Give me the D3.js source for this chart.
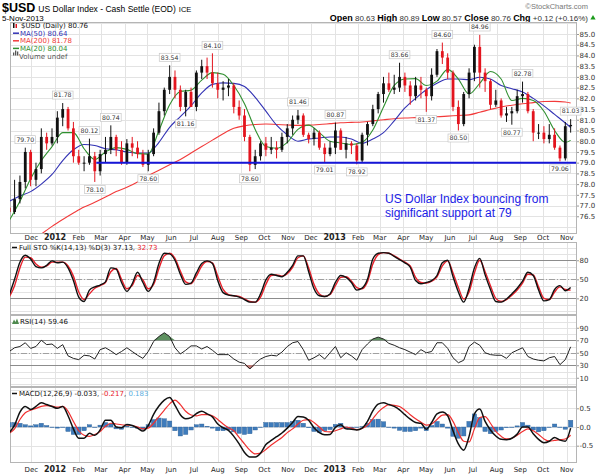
<!DOCTYPE html>
<html>
<head>
<meta charset="utf-8">
<script src="https://cdn.jsdelivr.net/npm/d3@7"></script>
<style>
  body { margin: 0; background: #fff; }
  svg text { font-family: "DejaVu Sans", sans-serif; }
  svg text.arial { font-family: "Liberation Sans", Arial, sans-serif; }
</style>
</head>
<body>
<script>
// ---------- data (one entry per week, the week is dated on its Wednesday) ----------
var firstWeek = new Date(2011, 10, 2);

var barOpen = [76.9,76.7,77.3,78.1,79.5,78.2,78.7,80.2,79.9,80.2,81.1,81.5,80.6,79.3,79.0,79.0,79.3,78.6,79.4,79.6,
  80.2,79.6,79.0,79.9,79.7,79.4,78.9,79.4,80.4,81.4,82.4,83.0,82.4,81.6,82.3,81.6,83.2,83.5,83.2,82.7,
  82.4,82.5,82.6,81.6,81.2,80.2,78.9,79.3,79.9,79.6,79.7,79.6,80.2,80.6,81.0,81.2,80.3,80.1,80.4,79.7,
  79.4,79.7,80.5,79.6,79.9,79.8,79.1,80.3,80.8,81.5,82.2,82.7,82.4,82.5,83.0,82.6,82.1,82.6,82.4,82.1,
  83.1,84.2,83.9,83.2,81.6,80.8,82.2,83.2,84.4,83.2,82.8,81.7,81.9,81.2,81.3,81.4,82.1,82.2,81.4,80.4,
  80.4,80.1,80.3,79.7,79.2,80.7];
var barHigh = [77.3,78.2,78.4,79.7,79.6,79.0,80.6,80.4,80.6,81.4,81.78,81.6,80.9,79.6,79.3,80.12,79.5,79.6,80.2,80.74,
  80.3,80.0,80.1,80.2,80.0,79.6,79.6,80.6,81.8,82.5,83.54,83.3,82.6,82.4,82.5,83.3,83.8,83.9,84.1,83.2,
  82.8,82.9,82.7,81.9,81.5,80.3,79.6,80.0,80.2,80.2,80.0,80.4,80.8,81.2,81.46,81.3,80.4,80.6,80.5,79.9,
  80.0,80.87,80.6,80.2,80.0,79.9,80.4,80.9,81.7,82.3,83.0,83.2,83.1,83.66,83.2,82.8,83.0,83.0,82.5,83.4,
  84.3,84.6,84.1,83.3,81.9,82.3,83.4,84.5,84.96,83.4,82.9,82.4,82.0,81.6,81.6,82.4,82.78,82.3,81.5,80.8,
  80.7,80.8,80.6,79.8,80.9,81.03];
var barLow = [76.4,76.6,77.1,77.8,77.9,77.9,78.5,79.6,79.8,79.9,80.7,80.5,79.0,78.9,78.6,78.9,78.1,78.4,79.0,79.4,
  79.3,78.9,78.9,79.3,79.2,78.8,78.6,79.3,80.3,81.2,82.2,82.0,81.4,81.16,81.6,81.4,82.9,82.9,82.5,82.0,
  81.9,82.1,81.3,81.0,80.0,78.6,78.7,79.1,79.3,79.4,79.2,79.5,79.9,80.3,80.8,80.2,79.9,79.8,79.6,79.01,
  79.3,79.4,79.6,79.2,79.4,78.92,79.0,79.8,80.7,81.3,81.8,82.3,82.2,82.3,82.3,81.7,81.9,82.0,81.37,81.9,
  83.0,83.6,82.9,81.4,80.5,80.7,82.0,82.8,82.5,82.3,81.5,81.6,81.1,80.9,80.77,81.3,81.8,81.3,80.0,80.1,
  79.9,79.9,79.6,79.06,79.1,80.4];
var barClose = [76.7,77.3,78.1,79.5,78.2,78.7,80.2,79.9,80.2,81.1,81.5,80.6,79.3,79.0,79.0,79.3,78.6,79.4,79.6,80.2,
  79.6,79.0,79.9,79.7,79.4,78.9,79.4,80.4,81.4,82.4,83.0,82.4,81.6,82.3,81.6,83.2,83.5,83.2,82.7,82.4,
  82.5,82.6,81.6,81.2,80.2,78.9,79.3,79.9,79.6,79.7,79.6,80.2,80.6,81.0,81.2,80.3,80.1,80.4,79.7,79.4,
  79.7,80.5,79.6,79.9,79.8,79.1,80.3,80.8,81.5,82.2,82.7,82.4,82.5,83.0,82.6,82.1,82.6,82.4,82.1,83.1,
  84.2,83.9,83.2,81.6,80.8,82.2,83.2,84.4,83.2,82.8,81.7,81.9,81.2,81.3,81.4,82.1,82.2,81.4,80.4,80.4,
  80.1,80.3,79.7,79.2,80.7,80.76];

// moving averages, read every second week (last value is the final week)
var ma50 = [77.2,77.45,77.65,78.0,78.45,79.1,79.6,79.85,79.8,79.65,79.6,79.5,79.45,79.45,79.95,80.65,81.15,81.65,82.25,82.65,
  82.72,82.7,82.55,82.05,81.4,80.75,80.3,80.0,80.1,80.15,80.2,80.2,80.1,79.9,80.1,80.4,80.95,81.55,82.0,82.4,
  82.7,82.9,82.9,82.87,82.98,82.9,82.6,82.45,82.3,82.0,81.65,81.25,80.85,80.64];
var ma20 = [76.3,77.2,78.25,79.1,79.75,80.4,80.4,79.65,79.15,79.5,79.7,79.62,79.42,79.4,80.5,81.7,82.32,82.38,82.85,83.2,
  83.12,82.6,81.75,80.55,79.75,79.67,79.95,80.55,80.75,80.4,80.0,79.92,79.85,79.95,80.52,81.6,82.6,82.9,82.92,82.6,
  82.8,83.35,82.9,82.2,82.7,83.25,82.9,81.9,82.0,81.9,81.4,80.5,79.95,80.04];
// the 200 day average only enters the panel from the 4th sample on
var ma200 = [75.67,76.03,76.35,76.65,76.93,77.15,77.4,77.65,77.85,78.1,78.4,78.65,78.9,79.15,79.45,79.75,80.05,80.35,80.6,80.72,
  80.78,80.8,80.78,80.76,80.74,80.75,80.78,80.82,80.86,80.88,80.9,80.95,81.0,81.05,81.08,81.1,81.12,81.14,81.17,81.2,
  81.23,81.35,81.48,81.6,81.68,81.75,81.8,81.85,81.86,81.83,81.78];

// price labels on the swing highs / lows
var labelValues = [79.70,81.78,80.12,78.10,80.74,78.60,83.54,81.16,84.10,78.60,81.46,79.01,80.87,78.92,83.66,81.37,84.60,80.50,84.96,80.77,82.78,79.06,81.03];
var labelWeeks  = [3,10,15,16,19,26,30,33,38,45,54,59,61,65,73,78,81,84,88,94,96,103,105];
var labelSides  = ["hi","hi","hi","lo","hi","lo","hi","lo","hi","lo","hi","lo","hi","lo","hi","lo","hi","lo","hi","lo","hi","lo","hi"];

var supportLevel = 79.0;
var supportFrom = new Date(2012, 1, 24);

var stoK = [25,50,77,88,82,70,68,72,79,76,77,68,48,22,15,33,38,41,46,68,
  66,45,31,43,61,45,31,45,75,91,90,80,58,42,44,60,75,79,75,48,
  29,25,24,22,18,14,14,27,49,58,56,54,61,72,87,87,62,35,24,23,
  27,45,56,53,45,33,36,50,82,91,92,91,86,81,76,69,48,43,45,48,
  56,76,80,54,30,14,36,68,83,57,34,15,14,19,27,36,47,61,56,33,
  16,18,34,40,32,37];
var stoD = [22,40,68,85,84,74,69,71,77,77,77,71,55,30,18,27,36,40,45,62,
  67,50,35,40,56,49,35,42,67,87,91,83,63,46,43,55,71,78,76,55,
  34,26,24,23,19,15,14,22,42,56,57,55,59,69,84,87,68,42,27,23,
  26,40,53,54,47,37,35,46,74,89,92,91,87,82,77,71,53,45,44,47,
  54,71,79,60,37,19,30,60,80,62,40,20,15,18,25,33,44,58,57,38,
  20,18,30,38,34,33];

var rsi = [52,58,60,66,57,60,70,63,64,57,63,45,41,39,46,45,40,55,58,53,
  47,52,58,52,46,41,52,68,76,82,76,58,48,54,61,61,56,60,54,47,
  47,47,40,35,33,24,33,40,44,46,45,51,60,66,68,55,38,42,47,40,
  50,60,42,50,45,38,55,64,72,75,72,65,62,58,55,51,47,55,50,52,
  66,66,57,42,34,38,60,67,62,50,47,46,46,41,50,54,58,44,40,38,
  37,42,44,31,39,59.5];

var macd = [-0.15,0.05,0.40,0.55,0.47,0.55,0.65,0.60,0.55,0.50,0.55,0.30,-0.05,-0.30,-0.30,-0.17,-0.22,-0.08,0.18,0.18,
  0.0,-0.02,0.07,0.04,-0.03,-0.11,0.04,0.34,0.56,0.72,0.79,0.58,0.33,0.22,0.25,0.36,0.42,0.35,0.27,0.08,
  -0.02,-0.09,-0.25,-0.45,-0.68,-0.80,-0.80,-0.70,-0.47,-0.36,-0.26,-0.16,-0.03,0.12,0.28,0.27,0.18,-0.02,-0.15,-0.21,
  -0.20,-0.01,0.06,-0.05,-0.06,-0.08,-0.03,0.15,0.43,0.61,0.65,0.60,0.55,0.46,0.33,0.21,0.12,0.10,-0.06,0.12,
  0.35,0.40,0.30,-0.10,-0.45,-0.62,-0.25,0.35,0.48,0.15,-0.08,-0.24,-0.33,-0.34,-0.30,-0.19,0.0,0.0,-0.18,-0.33,
  -0.42,-0.38,-0.28,-0.35,-0.38,-0.03];
var macdSignal = [-0.17,-0.05,0.2,0.38,0.45,0.5,0.55,0.57,0.56,0.53,0.55,0.42,0.15,-0.1,-0.22,-0.25,-0.2,-0.12,0.02,0.1,
  0.08,0.06,0.05,0.04,0.0,-0.05,-0.03,0.1,0.28,0.45,0.62,0.72,0.6,0.42,0.32,0.3,0.33,0.33,0.3,0.2,
  0.08,-0.02,-0.1,-0.28,-0.45,-0.62,-0.72,-0.7,-0.6,-0.48,-0.38,-0.28,-0.15,-0.05,0.08,0.18,0.2,0.12,0.0,-0.12,
  -0.13,-0.1,-0.05,0.0,-0.03,-0.07,-0.04,0.05,0.22,0.4,0.52,0.6,0.58,0.55,0.45,0.33,0.22,0.13,0.05,0.08,
  0.2,0.32,0.33,0.15,-0.15,-0.38,-0.4,-0.05,0.25,0.28,0.1,-0.12,-0.25,-0.32,-0.3,-0.22,-0.12,-0.05,-0.1,-0.2,
  -0.32,-0.38,-0.36,-0.34,-0.32,-0.22];
var macdHist = [0.12,0.12,0.1,0.06,0.03,0.06,0.1,0.04,-0.01,-0.03,0.0,-0.12,-0.2,-0.2,-0.1,0.06,0.0,0.05,0.12,0.08,
  -0.05,-0.06,0.02,0.0,-0.03,-0.06,0.06,0.2,0.24,0.22,0.16,-0.1,-0.24,-0.2,-0.08,0.06,0.08,0.02,-0.03,-0.1,
  -0.1,-0.08,-0.13,-0.17,-0.2,-0.18,-0.08,0.0,0.12,0.12,0.12,0.12,0.12,0.15,0.18,0.1,-0.02,-0.12,-0.15,-0.1,
  -0.07,0.07,0.1,-0.05,-0.03,-0.01,0.01,0.1,0.2,0.21,0.14,0.0,-0.03,-0.09,-0.12,-0.12,-0.1,-0.03,-0.1,0.04,
  0.15,0.08,-0.03,-0.25,-0.3,-0.24,0.15,0.35,0.25,-0.12,-0.18,-0.12,-0.08,-0.02,0.0,0.03,0.12,0.05,-0.08,-0.13,
  -0.1,0.0,0.08,-0.01,-0.06,0.18];

var mainTicks = [76.5,77.0,77.5,78.0,78.5,79.0,79.5,80.0,80.5,81.0,81.5,82.0,82.5,83.0,83.5,84.0,84.5,85.0];
var stoTicks = [20, 50, 80];
var rsiTicks = [10, 30, 50, 70, 90];
var macdTicks = [-0.5, 0.0, 0.5];

// ---------- layout ----------
var plotLeft = 10, plotRight = 576;
var mainTop = 22, mainBottom = 233;
var stoTop = 242, stoBottom = 314;
var rsiTop = 315, rsiBottom = 386;
var macdTop = 387, macdBottom = 462;

var upColor = "#111", downColor = "#e3141e";

var weekDates = d3.range(barClose.length).map(function(i) { return d3.timeDay.offset(firstWeek, 7 * i); });
var maWeeks = d3.range(0, barClose.length - 1, 2).concat([barClose.length - 1]);
var monthStarts = d3.timeMonth.range(new Date(2011, 11, 1), new Date(2013, 11, 1));

var x = d3.scaleTime()
    .domain([new Date(2011, 10, 3), new Date(2013, 10, 13)])
    .range([plotLeft, plotRight]);
var yMain = d3.scaleLinear().domain([75.72, 85.56]).range([mainBottom, mainTop]);
var ySto = d3.scaleLinear().domain([-4.7, 108.8]).range([stoBottom, stoTop]);
var yRsi = d3.scaleLinear().domain([-3.2, 110.4]).range([rsiBottom, rsiTop]);
var yMacd = d3.scaleLinear().domain([-0.936, 1.07]).range([macdBottom, macdTop]);

var svg = d3.select("body").append("svg")
    .attr("width", 605)
    .attr("height", 475);

drawHeader();
drawPanel("main", mainTop, mainBottom, yMain, d3.range(76, 85.6, 0.5), mainTicks, function(v) { return v.toFixed(1); });
drawPricePanel();
drawMonthLabels(239.5);
drawPanel("sto", stoTop, stoBottom, ySto, d3.range(0, 101, 10), stoTicks, String);
drawSto();
drawPanel("rsi", rsiTop, rsiBottom, yRsi, d3.range(0, 101, 10), rsiTicks, String);
drawRsi();
drawPanel("macd", macdTop, macdBottom, yMacd, [-0.5, 0, 0.5, 1.0], macdTicks, function(v) { return v.toFixed(1); });
drawMacd();
drawMonthLabels(472);


/**
 * Title lines above the chart
 */
function drawHeader() {
    var t = svg.append("text").attr("class", "arial").attr("x", 2).attr("y", 12);
    t.append("tspan").attr("font-size", 12.5).attr("font-weight", "bold").text("$USD");
    t.append("tspan").attr("font-size", 8.5).attr("dx", 3).text("US Dollar Index - Cash Settle (EOD)");
    t.append("tspan").attr("font-size", 7.5).attr("dx", 3).text("ICE");

    svg.append("text").attr("class", "arial").attr("x", 2).attr("y", 20.5)
        .attr("font-size", 8)
        .text("5-Nov-2013");

    svg.append("text").attr("class", "arial").attr("x", 588).attr("y", 9)
        .attr("text-anchor", "end").attr("font-size", 7.5).attr("fill", "#777")
        .text("\u00A9StockCharts.com");

    var q = svg.append("text").attr("class", "arial").attr("x", 588).attr("y", 20.5)
        .attr("text-anchor", "end").attr("font-size", 8);
    var parts = [["Open", " 80.63 "], ["High", " 80.89 "], ["Low", " 80.57 "], ["Close", " 80.76 "], ["Chg", " +0.12 (+0.16%)"]];
    parts.forEach(function(p) {
        q.append("tspan").attr("font-weight", "bold").attr("font-size", 9).text(p[0]);
        q.append("tspan").attr("fill", "#333").text(p[1]);
    });
    svg.append("path")
        .attr("d", d3.symbol().type(d3.symbolTriangle).size(12)())
        .attr("transform", "translate(593,18)")
        .attr("fill", "#1a9a1a");
}


/**
 * Frame, grid and right hand axis of one panel
 */
function drawPanel(name, top, bottom, yScale, gridValues, ticks, fmt) {
    svg.append("rect")
        .attr("x", plotLeft).attr("y", top)
        .attr("width", plotRight - plotLeft).attr("height", bottom - top)
        .attr("fill", "#fff");

    svg.append("clipPath").attr("id", "clip-" + name)
      .append("rect")
        .attr("x", plotLeft).attr("y", top)
        .attr("width", plotRight - plotLeft).attr("height", bottom - top);

    var grid = svg.append("g").attr("class", "grid");
    grid.selectAll(".h").data(gridValues.filter(function(v) {
            return yScale(v) > top + 1 && yScale(v) < bottom - 1;
        }))
        .enter().append("line")
        .attr("x1", plotLeft).attr("x2", plotRight)
        .attr("y1", function(d) { return Math.round(yScale(d)) + 0.5; })
        .attr("y2", function(d) { return Math.round(yScale(d)) + 0.5; })
        .attr("stroke", "#e3e3e3");
    grid.selectAll(".v").data(monthStarts)
        .enter().append("line")
        .attr("x1", function(d) { return Math.round(x(d)) + 0.5; })
        .attr("x2", function(d) { return Math.round(x(d)) + 0.5; })
        .attr("y1", top).attr("y2", bottom)
        .attr("stroke", "#e3e3e3");

    svg.append("rect")
        .attr("x", plotLeft + 0.5).attr("y", top + 0.5)
        .attr("width", plotRight - plotLeft).attr("height", bottom - top)
        .attr("fill", "none").attr("stroke", "#b5b5b5");

    // right axis, no domain line, labels only
    var axis = svg.append("g")
        .attr("transform", "translate(" + (plotRight + 1) + ",0)")
        .call(d3.axisRight(yScale).tickValues(ticks).tickSize(2).tickFormat(fmt));
    axis.select(".domain").remove();
    axis.selectAll("line").attr("stroke", "#999");
    axis.selectAll("text")
        .attr("font-size", 7).attr("fill", "#333")
        .attr("x", 2.5);
}


/**
 * Candles, moving averages, support line and the labels
 */
function drawPricePanel() {
    var g = svg.append("g").attr("clip-path", "url(#clip-main)");

    var bars = weekDates.map(function(d, i) {
        return { date: d, o: barOpen[i], h: barHigh[i], l: barLow[i], c: barClose[i] };
    });

    // moving averages under the candles
    var maLine = d3.line()
        .curve(d3.curveMonotoneX)
        .x(function(d) { return x(weekDates[d.w]); })
        .y(function(d) { return yMain(d.v); });
    var series = [
        { values: ma200, weeks: maWeeks.slice(3), color: "#f23a3a" },
        { values: ma50, weeks: maWeeks, color: "#3232b4" },
        { values: ma20, weeks: maWeeks, color: "#2f8f2f" }
    ];
    series.forEach(function(s) {
        g.append("path")
            .datum(s.values.map(function(v, i) { return { w: s.weeks[i], v: v }; }))
            .attr("fill", "none")
            .attr("stroke", s.color)
            .attr("stroke-width", 1.1)
            .attr("d", maLine);
    });

    g.selectAll(".wick").data(bars).enter().append("line")
        .attr("x1", function(d) { return x(d.date); })
        .attr("x2", function(d) { return x(d.date); })
        .attr("y1", function(d) { return yMain(d.h); })
        .attr("y2", function(d) { return yMain(d.l); })
        .attr("stroke", function(d) { return d.c >= d.o ? upColor : downColor; })
        .attr("stroke-width", 1);
    g.selectAll(".body").data(bars).enter().append("rect")
        .attr("x", function(d) { return x(d.date) - 1.4; })
        .attr("width", 2.8)
        .attr("y", function(d) { return yMain(Math.max(d.o, d.c)); })
        .attr("height", function(d) { return Math.max(1, Math.abs(yMain(d.o) - yMain(d.c))); })
        .attr("fill", function(d) { return d.c >= d.o ? upColor : downColor; });

    // support line
    g.append("line")
        .attr("x1", x(supportFrom)).attr("x2", plotRight)
        .attr("y1", yMain(supportLevel)).attr("y2", yMain(supportLevel))
        .attr("stroke", "#1515d8")
        .attr("stroke-width", 2);

    // price labels
    labelValues.forEach(function(v, i) {
        var cx = x(weekDates[labelWeeks[i]]);
        var py = yMain(v);
        var above = labelSides[i] === "hi";
        var lab = svg.append("g");
        var txt = lab.append("text")
            .attr("font-size", 6.2).attr("fill", "#333")
            .attr("text-anchor", "middle")
            .text(v.toFixed(2));
        var w = txt.node().getComputedTextLength() + 3;
        var boxY = above ? py - 12 : py + 3.5;
        if (boxY < mainTop + 1) boxY = mainTop + 1;
        lab.insert("rect", "text")
            .attr("x", cx - w / 2).attr("y", boxY)
            .attr("width", w).attr("height", 8)
            .attr("fill", "#fff").attr("stroke", "#c8c8c8").attr("stroke-width", 0.7);
        txt.attr("x", cx).attr("y", boxY + 6.3);
    });

    // note
    var note = svg.append("g").attr("fill", "#1c1ce6");
    note.append("text").attr("class", "arial").attr("font-size", 12)
        .attr("x", 385).attr("y", 203).text("US Dollar Index bouncing from");
    note.append("text").attr("class", "arial").attr("font-size", 12)
        .attr("x", 385).attr("y", 217).text("significant support at 79");

    // legend
    var lg = svg.append("g").attr("font-size", 7);
    lg.append("rect").attr("x", 13).attr("y", 23).attr("width", 1.5).attr("height", 5).attr("fill", "#111");
    lg.append("rect").attr("x", 15.5).attr("y", 24).attr("width", 1.5).attr("height", 4).attr("fill", "#e3141e");
    lg.append("text").attr("x", 21).attr("y", 28).attr("fill", "#111").text("$USD (Daily) 80.76");
    var rows = [["MA(50) 80.64", "#3232b4"], ["MA(200) 81.78", "#f23a3a"], ["MA(20) 80.04", "#2f8f2f"]];
    rows.forEach(function(r, i) {
        var yy = 35.5 + i * 7.6;
        lg.append("line").attr("x1", 13).attr("x2", 19).attr("y1", yy - 2.3).attr("y2", yy - 2.3)
            .attr("stroke", r[1]).attr("stroke-width", 1.5);
        lg.append("text").attr("x", 20).attr("y", yy).attr("fill", r[1]).text(r[0]);
    });
    [0, 2, 4].forEach(function(dx, k) {
        lg.append("rect").attr("x", 13 + dx).attr("y", 55.5 - [3, 5, 4][k])
            .attr("width", 1.3).attr("height", [3, 5, 4][k]).attr("fill", "#555");
    });
    lg.append("text").attr("x", 19).attr("y", 58.5).attr("fill", "#555").text("Volume undef");
}


/**
 * Month names (year at January) under a panel
 */
function drawMonthLabels(yPos) {
    svg.append("g").selectAll("text").data(monthStarts).enter().append("text")
        .attr("x", function(d) { return x(d); })
        .attr("y", yPos)
        .attr("text-anchor", "middle")
        .attr("font-size", function(d) { return d.getMonth() === 0 ? 8 : 7; })
        .attr("font-weight", function(d) { return d.getMonth() === 0 ? "bold" : "normal"; })
        .attr("fill", "#222")
        .text(function(d) { return d.getMonth() === 0 ? d.getFullYear() : d3.timeFormat("%b")(d); });
}


/**
 * Draw the level lines of an oscillator
 */
function levelLines(yScale, solid, dashed) {
    solid.forEach(function(v) {
        svg.append("line")
            .attr("x1", plotLeft).attr("x2", plotRight)
            .attr("y1", Math.round(yScale(v)) + 0.5).attr("y2", Math.round(yScale(v)) + 0.5)
            .attr("stroke", "#8c8c8c").attr("stroke-width", 1.2);
    });
    svg.append("line")
        .attr("x1", plotLeft).attr("x2", plotRight)
        .attr("y1", Math.round(yScale(dashed)) + 0.5).attr("y2", Math.round(yScale(dashed)) + 0.5)
        .attr("stroke", "#a0a0a0").attr("stroke-dasharray", "6,2,1,2");
}


function drawSto() {
    levelLines(ySto, [20, 80], 50);
    var g = svg.append("g").attr("clip-path", "url(#clip-sto)");
    var line = function(vals) {
        return d3.line().curve(d3.curveMonotoneX)
            .x(function(d, i) { return x(weekDates[i]); })
            .y(function(d) { return ySto(d); })(vals);
    };
    g.append("path").attr("d", line(stoD)).attr("fill", "none").attr("stroke", "#e8202a").attr("stroke-width", 1.4);
    g.append("path").attr("d", line(stoK)).attr("fill", "none").attr("stroke", "#111").attr("stroke-width", 1.4);

    svg.append("line").attr("x1", 12).attr("x2", 17).attr("y1", 247.5).attr("y2", 247.5)
        .attr("stroke", "#111").attr("stroke-width", 1.5);
    var t = svg.append("text").attr("x", 19).attr("y", 250).attr("font-size", 7);
    t.append("tspan").attr("fill", "#111").text("Full STO %K(14,13) %D(3) 37.13, ");
    t.append("tspan").attr("fill", "#e8202a").text("32.73");
}


function drawRsi() {
    levelLines(yRsi, [30, 70], 50);
    var g = svg.append("g").attr("clip-path", "url(#clip-rsi)");
    var xi = function(d, i) { return x(weekDates[i]); };

    g.append("path")
        .attr("d", d3.area().x(xi)
            .y0(yRsi(70))
            .y1(function(d) { return yRsi(Math.max(d, 70)); })(rsi))
        .attr("fill", "#5e9160").attr("stroke", "none");
    g.append("path")
        .attr("d", d3.area().x(xi)
            .y0(yRsi(30))
            .y1(function(d) { return yRsi(Math.min(d, 30)); })(rsi))
        .attr("fill", "#c77b76").attr("stroke", "none");
    g.append("path")
        .attr("d", d3.line().x(xi).y(function(d) { return yRsi(d); })(rsi))
        .attr("fill", "none").attr("stroke", "#222").attr("stroke-width", 1);

    svg.append("path").attr("d", "M12,324 L14,319.5 L15.5,322 L17,318.5 L19,324 Z").attr("fill", "#4f8a4f");
    svg.append("text").attr("x", 20).attr("y", 324).attr("font-size", 7).attr("fill", "#111").text("RSI(14) 59.46");
}


function drawMacd() {
    var g = svg.append("g").attr("clip-path", "url(#clip-macd)");
    g.selectAll(".hist").data(macdHist).enter().append("rect")
        .attr("x", function(d, i) { return x(weekDates[i]) - 2.2; })
        .attr("width", 4.4)
        .attr("y", function(d) { return yMacd(Math.max(0, d)); })
        .attr("height", function(d) { return Math.max(0.5, Math.abs(yMacd(d) - yMacd(0))); })
        .attr("fill", "#3f7cbc")
        .attr("stroke", "#2d5f93").attr("stroke-width", 0.4);

    var line = d3.line().curve(d3.curveMonotoneX)
        .x(function(d, i) { return x(weekDates[i]); })
        .y(function(d) { return yMacd(d); });
    g.append("path").attr("d", line(macdSignal)).attr("fill", "none").attr("stroke", "#f03030").attr("stroke-width", 1.2);
    g.append("path").attr("d", line(macd)).attr("fill", "none").attr("stroke", "#111").attr("stroke-width", 1.5);

    svg.append("line").attr("x1", 12).attr("x2", 17).attr("y1", 393.5).attr("y2", 393.5)
        .attr("stroke", "#111").attr("stroke-width", 1.5);
    var t = svg.append("text").attr("x", 19).attr("y", 396).attr("font-size", 7);
    t.append("tspan").attr("fill", "#111").text("MACD(12,26,9) -0.033, ");
    t.append("tspan").attr("fill", "#e8202a").text("-0.217");
    t.append("tspan").attr("fill", "#111").text(", ");
    t.append("tspan").attr("fill", "#5aaee0").text("0.183");
}
</script>
</body>
</html>
